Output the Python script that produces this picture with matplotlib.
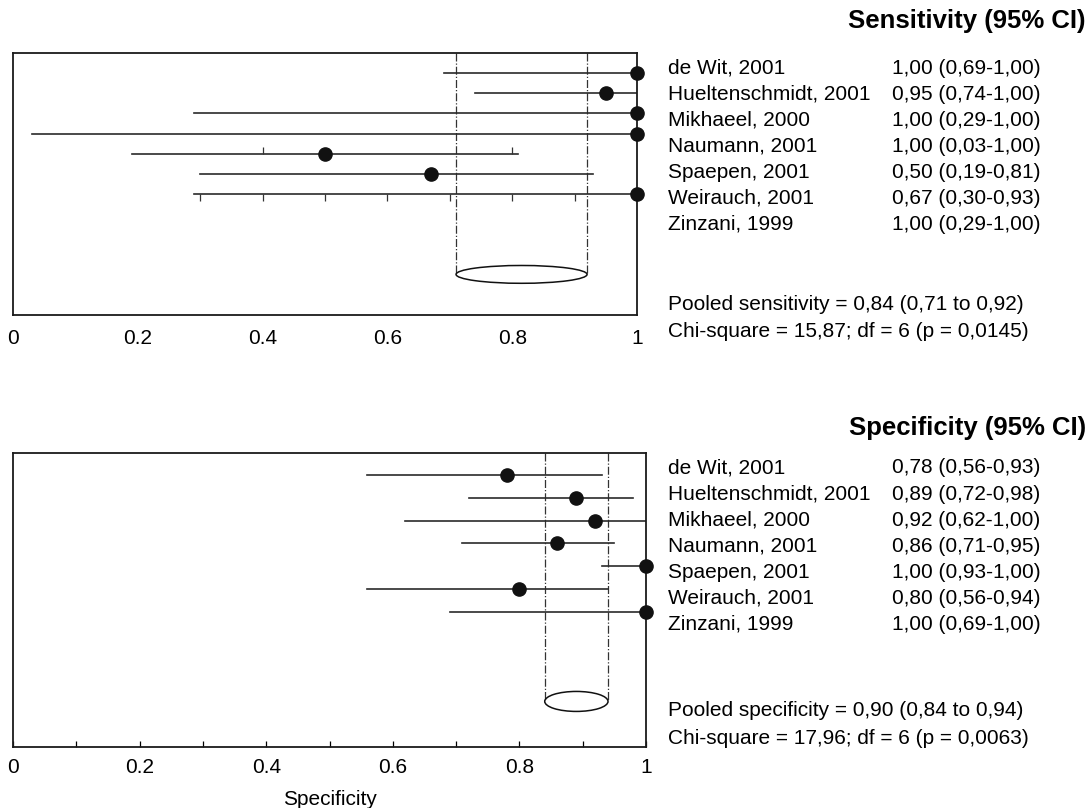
import numpy as np
import matplotlib
matplotlib.use('Agg')
from matplotlib import pyplot as plt
from matplotlib.patches import Ellipse

plt.rcParams['font.family'] = ['Liberation Sans', 'DejaVu Sans']

studies = ['de Wit, 2001', 'Hueltenschmidt, 2001', 'Mikhaeel, 2000', 'Naumann, 2001',
           'Spaepen, 2001', 'Weirauch, 2001', 'Zinzani, 1999']

sens = [1.00, 0.95, 1.00, 1.00, 0.50, 0.67, 1.00]
sens_lo = [0.69, 0.74, 0.29, 0.03, 0.19, 0.30, 0.29]
sens_hi = [1.00, 1.00, 1.00, 1.00, 0.81, 0.93, 1.00]
sens_pooled = [0.84, 0.71, 0.92]
sens_chi = [15.87, 6, '0,0145']

spec = [0.78, 0.89, 0.92, 0.86, 1.00, 0.80, 1.00]
spec_lo = [0.56, 0.72, 0.62, 0.71, 0.93, 0.56, 0.69]
spec_hi = [0.93, 0.98, 1.00, 0.95, 1.00, 0.94, 1.00]
spec_pooled = [0.90, 0.84, 0.94]
spec_chi = [17.96, 6, '0,0063']

tick_vals = [0, 0.2, 0.4, 0.6, 0.8, 1]
tick_labels = ['0', '0.2', '0.4', '0.6', '0.8', '1']

# stray tick marks that sit on some rows of the sensitivity panel
stray_up = {4: [0.4, 0.8]}
stray_down = {6: [0.3, 0.4, 0.5, 0.6, 0.7, 0.8, 0.9]}


def fmt(v):
    return f'{v:.2f}'.replace('.', ',')


W, H = 1090, 808
fig = plt.figure(figsize=(W / 100, H / 100), dpi=100)


def px(x, y):
    return x / W, 1 - y / H


def draw_panel(ax, est, lo, hi, pooled, minor_ticks):
    rows = 0.075 + np.arange(len(est)) * 0.0775
    ell_y = 0.845
    for i in range(len(est)):
        ax.plot([lo[i], hi[i]], [rows[i], rows[i]], color='#2a2a2a', lw=1.2, zorder=2)
        ax.plot(est[i], rows[i], 'o', color='#111111', ms=9.5, zorder=4, clip_on=False)
    for xv in pooled[1:]:
        ax.plot([xv, xv], [0, ell_y], color='#333333', lw=0.9, ls='-.', zorder=1)
    ax.add_patch(Ellipse(((pooled[1] + pooled[2]) / 2, ell_y), pooled[2] - pooled[1], 0.068,
                         fill=False, ec='#111111', lw=1.1, zorder=3))
    ax.set_xlim(0, 1)
    ax.set_ylim(1, 0)
    ax.set_yticks([])
    ax.set_xticks(tick_vals)
    ax.set_xticklabels(tick_labels, fontsize=15)
    for s in ax.spines.values():
        s.set_linewidth(1.3)
        s.set_color('#1a1a1a')
    if minor_ticks:
        ax.set_xticks(np.arange(0.1, 1.0, 0.2), minor=True)
        ax.tick_params(axis='x', which='both', direction='in', length=4, width=0.9, pad=8)
    else:
        ax.tick_params(axis='x', length=0, pad=10)
    return rows


def draw_text(title, title_y, row_y0, est, lo, hi, pooled, chi, name, pooled_y):
    fig.text(*px(1086, title_y), title, fontsize=18.5, fontweight='bold', ha='right', va='center')
    for i, s in enumerate(studies):
        y = row_y0 + i * 26
        fig.text(*px(668, y), s, fontsize=15, va='center')
        fig.text(*px(892, y), f'{fmt(est[i])} ({fmt(lo[i])}-{fmt(hi[i])})', fontsize=15, va='center')
    fig.text(*px(668, pooled_y),
             f'Pooled {name} = {fmt(pooled[0])} ({fmt(pooled[1])} to {fmt(pooled[2])})',
             fontsize=15, va='center')
    fig.text(*px(668, pooled_y + 28),
             f'Chi-square = {fmt(chi[0])}; df = {chi[1]} (p = {chi[2]})',
             fontsize=15, va='center')


ax1 = fig.add_axes([13 / W, 1 - 315 / H, (637 - 13) / W, (315 - 53) / H])
rows1 = draw_panel(ax1, sens, sens_lo, sens_hi, sens_pooled, False)
for r, xs in stray_up.items():
    ax1.plot(xs, [rows1[r]] * len(xs), ls='none', marker=2, ms=5, color='#333333', mew=0.9)
for r, xs in stray_down.items():
    ax1.plot(xs, [rows1[r]] * len(xs), ls='none', marker=3, ms=5, color='#333333', mew=0.9)

ax2 = fig.add_axes([13 / W, 1 - 747 / H, (646 - 13) / W, (747 - 453) / H])
draw_panel(ax2, spec, spec_lo, spec_hi, spec_pooled, True)
ax2.set_xlabel('Specificity', fontsize=15, labelpad=9)

draw_text('Sensitivity (95% CI)', 21, 68, sens, sens_lo, sens_hi, sens_pooled, sens_chi,
          'sensitivity', 304)
draw_text('Specificity (95% CI)', 428, 468, spec, spec_lo, spec_hi, spec_pooled, spec_chi,
          'specificity', 711)

fig.savefig('out.png', dpi=100)
